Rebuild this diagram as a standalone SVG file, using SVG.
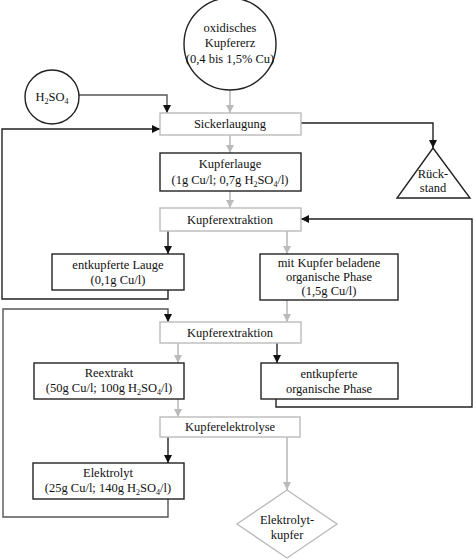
<svg xmlns="http://www.w3.org/2000/svg" width="476" height="560" viewBox="0 0 476 560" font-family="'Liberation Serif','DejaVu Serif','Times New Roman',serif">
<defs>
<style>
text{font-family:"Liberation Serif","DejaVu Serif","Times New Roman",serif;font-size:12.5px;fill:#111;text-anchor:middle}
.sub{font-size:8px}
.bk{fill:#fff;stroke:#222;stroke-width:1.4}
.gr{fill:#fff;stroke:#bbb;stroke-width:1.4}
.lk{fill:none;stroke:#222;stroke-width:1.4}
.lg{fill:none;stroke:#bbb;stroke-width:1.6}
.lm{fill:none;stroke:#555;stroke-width:1.4}
</style>
<marker id="ak" markerWidth="8" markerHeight="10" refX="8" refY="5" orient="auto" markerUnits="userSpaceOnUse"><path d="M0,1 L8,5 L0,9 Z" fill="#111"/></marker>
<marker id="ag" markerWidth="8" markerHeight="10" refX="8" refY="5" orient="auto" markerUnits="userSpaceOnUse"><path d="M0,1 L8,5 L0,9 Z" fill="#bbb"/></marker>
</defs>
<g id="connectors">
<line class="lg" x1="230" y1="90" x2="230" y2="113" marker-end="url(#ag)"/>
<polyline class="lm" points="79,95 167,95 167,113" marker-end="url(#ak)"/>
<polyline class="lk" points="168,290 168,299 2,299 2,129 160,129" marker-end="url(#ak)"/>
<polyline class="lk" points="301,123 433,123 433,148" marker-end="url(#ak)"/>
<line class="lg" x1="230" y1="135" x2="230" y2="153" marker-end="url(#ag)"/>
<line class="lg" x1="230" y1="191" x2="230" y2="208" marker-end="url(#ag)"/>
<line class="lk" x1="168" y1="231" x2="168" y2="254" marker-end="url(#ak)"/>
<line class="lg" x1="287" y1="231" x2="287" y2="254" marker-end="url(#ag)"/>
<polyline class="lk" points="276,399 276,407 472,407 472,219 301,219" marker-end="url(#ak)"/>
<line class="lg" x1="287" y1="300" x2="287" y2="322" marker-end="url(#ag)"/>
<polyline class="lm" points="168,499 168,517 3,517 3,309 168,309 168,322" marker-end="url(#ak)"/>
<line class="lg" x1="178" y1="343" x2="178" y2="363" marker-end="url(#ag)"/>
<line class="lk" x1="277" y1="343" x2="277" y2="363" marker-end="url(#ak)"/>
<line class="lg" x1="178" y1="399" x2="178" y2="417" marker-end="url(#ag)"/>
<line class="lk" x1="168" y1="437" x2="168" y2="463" marker-end="url(#ak)"/>
<line class="lg" x1="287" y1="437" x2="287" y2="490" marker-end="url(#ag)"/>
</g>
<g id="erz">
<circle cx="230" cy="44" r="46" fill="#fff" stroke="#222" stroke-width="1.4"/>
<text x="230" y="32">oxidisches</text>
<text x="230" y="47">Kupfererz</text>
<text x="230" y="63">(0,4 bis 1,5% Cu)</text>
</g>
<g id="h2so4">
<circle cx="52" cy="97" r="27" fill="#fff" stroke="#222" stroke-width="1.4"/>
<text x="52" y="101">H<tspan class="sub" dy="3">2</tspan><tspan dy="-3">SO</tspan><tspan class="sub" dy="3">4</tspan></text>
</g>
<g id="sickerlaugung">
<rect class="gr" x="160" y="113" width="141" height="22"/>
<text x="230" y="128">Sickerlaugung</text>
</g>
<g id="rueckstand">
<polygon points="433,148 470,198 397,198" fill="#fff" stroke="#222" stroke-width="1.4"/>
<text x="433" y="178">Rück-</text>
<text x="433" y="192">stand</text>
</g>
<g id="kupferlauge">
<rect class="bk" x="160" y="153" width="141" height="38"/>
<text x="230" y="168">Kupferlauge</text>
<text x="230" y="184">(1g Cu/l; 0,7g H<tspan class="sub" dy="3">2</tspan><tspan dy="-3">SO</tspan><tspan class="sub" dy="3">4</tspan><tspan dy="-3">/l)</tspan></text>
</g>
<g id="kupferextraktion1">
<rect class="gr" x="160" y="208" width="141" height="23"/>
<text x="230" y="224">Kupferextraktion</text>
</g>
<g id="entkupferte-lauge">
<rect class="bk" x="52" y="254" width="132" height="36"/>
<text x="118" y="269">entkupferte Lauge</text>
<text x="118" y="284">(0,1g Cu/l)</text>
</g>
<g id="beladene-phase">
<rect class="bk" x="260" y="254" width="138" height="46"/>
<text x="329" y="267">mit Kupfer beladene</text>
<text x="329" y="281">organische Phase</text>
<text x="329" y="295">(1,5g Cu/l)</text>
</g>
<g id="kupferextraktion2">
<rect class="gr" x="160" y="322" width="141" height="21"/>
<text x="230" y="337">Kupferextraktion</text>
</g>
<g id="reextrakt">
<rect class="bk" x="34" y="363" width="150" height="36"/>
<text x="109" y="377">Reextrakt</text>
<text x="109" y="392">(50g Cu/l; 100g H<tspan class="sub" dy="3">2</tspan><tspan dy="-3">SO</tspan><tspan class="sub" dy="3">4</tspan><tspan dy="-3">/l)</tspan></text>
</g>
<g id="entkupferte-phase">
<rect class="bk" x="261" y="363" width="137" height="36"/>
<text x="329" y="378">entkupferte</text>
<text x="329" y="393">organische Phase</text>
</g>
<g id="kupferelektrolyse">
<rect class="gr" x="160" y="417" width="140" height="20"/>
<text x="230" y="431">Kupferelektrolyse</text>
</g>
<g id="elektrolyt">
<rect class="bk" x="33" y="463" width="151" height="36"/>
<text x="108" y="477">Elektrolyt</text>
<text x="108" y="492">(25g Cu/l; 140g H<tspan class="sub" dy="3">2</tspan><tspan dy="-3">SO</tspan><tspan class="sub" dy="3">4</tspan><tspan dy="-3">/l)</tspan></text>
</g>
<g id="elektrolytkupfer">
<polygon points="287,490 337,524 287,558 237,524" fill="#fff" stroke="#bbb" stroke-width="1.4"/>
<text x="287" y="524">Elektrolyt-</text>
<text x="287" y="539">kupfer</text>
</g>
</svg>
